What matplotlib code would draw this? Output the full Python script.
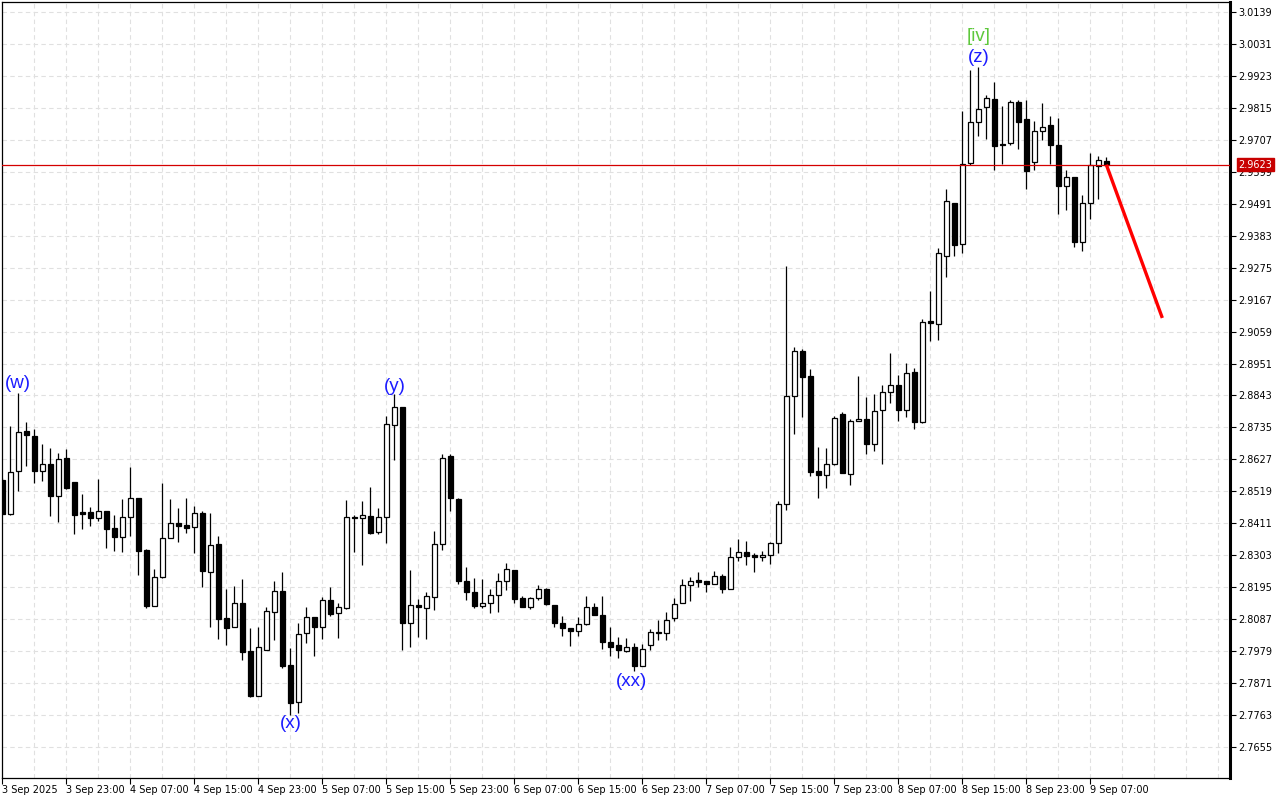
import matplotlib
matplotlib.use("Agg")
import matplotlib.pyplot as plt
import numpy as np

# hourly candles, 3 Sep 2025 15:00 .. 9 Sep 2025 09:00
opens = [
    2.8558, 2.8443, 2.8588, 2.8723, 2.8706, 2.8588, 2.8612, 2.8504, 2.8632, 2.8551,
    2.8449, 2.8449, 2.8429, 2.8453, 2.8395, 2.8365, 2.8433, 2.8497, 2.8321, 2.8132,
    2.8230, 2.8362, 2.8412, 2.8406, 2.8399, 2.8446, 2.8247, 2.8341, 2.8091, 2.8061,
    2.8142, 2.7980, 2.7828, 2.7983, 2.8111, 2.8182, 2.7932, 2.7807, 2.8040, 2.8094,
    2.8061, 2.8152, 2.8108, 2.8125, 2.8433, 2.8429, 2.8436, 2.8382, 2.8433, 2.8743,
    2.8804, 2.8074, 2.8135, 2.8125, 2.8162, 2.8341, 2.8639, 2.8493, 2.8216, 2.8179,
    2.8132, 2.8142, 2.8169, 2.8216, 2.8253, 2.8159, 2.8128, 2.8159, 2.8189, 2.8135,
    2.8074, 2.8057, 2.8047, 2.8071, 2.8128, 2.8101, 2.8010, 2.8000, 2.7980, 2.7993,
    2.7929, 2.8000, 2.8044, 2.8040, 2.8091, 2.8142, 2.8203, 2.8220, 2.8216, 2.8206,
    2.8233, 2.8189, 2.8297, 2.8314, 2.8304, 2.8297, 2.8304, 2.8345, 2.8476, 2.8842,
    2.8994, 2.8909, 2.8588, 2.8574, 2.8612, 2.8781, 2.8578, 2.8757, 2.8764, 2.8679,
    2.8794, 2.8855, 2.8879, 2.8794, 2.8923, 2.8754, 2.9095, 2.9085, 2.9315, 2.9494,
    2.9355, 2.9629, 2.9768, 2.9818, 2.9845, 2.9693, 2.9696, 2.9835, 2.9778, 2.9632,
    2.9737, 2.9757, 2.9690, 2.9551, 2.9581, 2.9362, 2.9494, 2.9619, 2.9636,
]
highs = [
    2.8565, 2.8740, 2.8852, 2.8754, 2.8730, 2.8679, 2.8666, 2.8649, 2.8662, 2.8551,
    2.8510, 2.8466, 2.8561, 2.8453, 2.8439, 2.8493, 2.8602, 2.8497, 2.8324, 2.8257,
    2.8547, 2.8493, 2.8463, 2.8497, 2.8470, 2.8453, 2.8446, 2.8368, 2.8189, 2.8199,
    2.8223, 2.8057, 2.8061, 2.8128, 2.8216, 2.8247, 2.7990, 2.8074, 2.8128, 2.8094,
    2.8162, 2.8196, 2.8142, 2.8490, 2.8439, 2.8487, 2.8534, 2.8463, 2.8774, 2.8848,
    2.8804, 2.8253, 2.8155, 2.8179, 2.8385, 2.8645, 2.8645, 2.8497, 2.8264, 2.8226,
    2.8223, 2.8189, 2.8243, 2.8277, 2.8253, 2.8165, 2.8162, 2.8203, 2.8193, 2.8135,
    2.8098, 2.8057, 2.8094, 2.8165, 2.8142, 2.8165, 2.8061, 2.8027, 2.8024, 2.8007,
    2.8003, 2.8054, 2.8084, 2.8111, 2.8159, 2.8223, 2.8230, 2.8247, 2.8216, 2.8250,
    2.8240, 2.8331, 2.8358, 2.8351, 2.8311, 2.8318, 2.8348, 2.8487, 2.9281, 2.9007,
    2.9000, 2.8933, 2.8669, 2.8666, 2.8774, 2.8787, 2.8764, 2.8909, 2.8838, 2.8848,
    2.8879, 2.8987, 2.8913, 2.8953, 2.8936, 2.9102, 2.9196, 2.9342, 2.9541, 2.9494,
    2.9805, 2.9943, 2.9953, 2.9859, 2.9903, 2.9822, 2.9842, 2.9842, 2.9842, 2.9771,
    2.9832, 2.9788, 2.9781, 2.9605, 2.9581, 2.9521, 2.9663, 2.9653, 2.9649,
]
lows = [
    2.8443, 2.8440, 2.8520, 2.8605, 2.8547, 2.8554, 2.8436, 2.8416, 2.8527, 2.8375,
    2.8392, 2.8402, 2.8419, 2.8328, 2.8318, 2.8314, 2.8368, 2.8237, 2.8125, 2.8132,
    2.8227, 2.8362, 2.8348, 2.8378, 2.8311, 2.8196, 2.8061, 2.8020, 2.8000, 2.8061,
    2.7949, 2.7824, 2.7828, 2.7983, 2.8017, 2.7922, 2.7763, 2.7770, 2.8007, 2.7963,
    2.8020, 2.8098, 2.8024, 2.8122, 2.8314, 2.8270, 2.8375, 2.8375, 2.8345, 2.8625,
    2.7983, 2.7993, 2.8027, 2.8020, 2.8118, 2.8321, 2.8453, 2.8206, 2.8152, 2.8125,
    2.8125, 2.8108, 2.8111, 2.8186, 2.8142, 2.8128, 2.8122, 2.8152, 2.8135, 2.8061,
    2.8030, 2.7997, 2.8030, 2.8067, 2.8101, 2.7986, 2.7963, 2.7956, 2.7976, 2.7912,
    2.7929, 2.7983, 2.8017, 2.8017, 2.8081, 2.8142, 2.8149, 2.8196, 2.8179, 2.8206,
    2.8176, 2.8189, 2.8284, 2.8270, 2.8247, 2.8284, 2.8274, 2.8311, 2.8456, 2.8713,
    2.8770, 2.8571, 2.8497, 2.8531, 2.8608, 2.8581, 2.8541, 2.8757, 2.8645, 2.8656,
    2.8612, 2.8818, 2.8757, 2.8770, 2.8730, 2.8750, 2.9027, 2.9031, 2.9244, 2.9315,
    2.9325, 2.9622, 2.9720, 2.9710, 2.9605, 2.9626, 2.9690, 2.9676, 2.9541, 2.9605,
    2.9707, 2.9626, 2.9457, 2.9470, 2.9345, 2.9332, 2.9440, 2.9507, 2.9621,
]
closes = [
    2.8443, 2.8585, 2.8720, 2.8710, 2.8588, 2.8612, 2.8504, 2.8629, 2.8531, 2.8439,
    2.8443, 2.8429, 2.8453, 2.8392, 2.8365, 2.8433, 2.8497, 2.8318, 2.8132, 2.8230,
    2.8362, 2.8412, 2.8402, 2.8395, 2.8446, 2.8250, 2.8338, 2.8088, 2.8057, 2.8142,
    2.7976, 2.7828, 2.7993, 2.8115, 2.8182, 2.7929, 2.7804, 2.8037, 2.8094, 2.8061,
    2.8152, 2.8105, 2.8128, 2.8433, 2.8429, 2.8439, 2.8378, 2.8433, 2.8747, 2.8804,
    2.8074, 2.8135, 2.8128, 2.8165, 2.8341, 2.8632, 2.8497, 2.8216, 2.8179, 2.8132,
    2.8142, 2.8169, 2.8216, 2.8257, 2.8155, 2.8128, 2.8159, 2.8189, 2.8138, 2.8074,
    2.8057, 2.8047, 2.8071, 2.8128, 2.8101, 2.8010, 2.7993, 2.7983, 2.7993, 2.7929,
    2.7986, 2.8044, 2.8040, 2.8084, 2.8138, 2.8203, 2.8216, 2.8213, 2.8206, 2.8233,
    2.8189, 2.8297, 2.8314, 2.8301, 2.8297, 2.8304, 2.8345, 2.8476, 2.8842, 2.8994,
    2.8906, 2.8585, 2.8574, 2.8612, 2.8767, 2.8581, 2.8757, 2.8764, 2.8679, 2.8791,
    2.8855, 2.8879, 2.8794, 2.8919, 2.8754, 2.9092, 2.9088, 2.9325, 2.9501, 2.9352,
    2.9626, 2.9768, 2.9812, 2.9849, 2.9686, 2.9690, 2.9835, 2.9768, 2.9602, 2.9737,
    2.9751, 2.9690, 2.9551, 2.9581, 2.9362, 2.9494, 2.9622, 2.9639, 2.9623,
]

time_labels = [
    "3 Sep 2025", "3 Sep 23:00", "4 Sep 07:00", "4 Sep 15:00", "4 Sep 23:00",
    "5 Sep 07:00", "5 Sep 15:00", "5 Sep 23:00", "6 Sep 07:00", "6 Sep 15:00",
    "6 Sep 23:00", "7 Sep 07:00", "7 Sep 15:00", "7 Sep 23:00", "8 Sep 07:00",
    "8 Sep 15:00", "8 Sep 23:00", "9 Sep 07:00",
]
price_ticks = [
    3.0139, 3.0031, 2.9923, 2.9815, 2.9707, 2.9599, 2.9491, 2.9383, 2.9275, 2.9167,
    2.9059, 2.8951, 2.8843, 2.8735, 2.8627, 2.8519, 2.8411, 2.8303, 2.8195, 2.8087,
    2.7979, 2.7871, 2.7763, 2.7655,
]
current_price = 2.9623

# wave labels: text, bar index, price, colour
wave_labels = [
    ("(w)", 2.0, 2.8885, "#1c1cff"),
    ("(x)", 36.0, 2.7736, "#1c1cff"),
    ("(y)", 49.1, 2.8875, "#1c1cff"),
    ("(xx)", 78.7, 2.7878, "#1c1cff"),
    ("(z)", 122.0, 2.9984, "#1c1cff"),
    ("[iv]", 122.0, 3.0055, "#5ec83c"),
]
forecast_bars = [138, 145]
forecast_prices = [2.9623, 2.9105]

fig = plt.figure(figsize=(12.8, 8.0), dpi=100)
ax = fig.add_axes([2 / 1280, 22 / 800, 1228 / 1280, 776 / 800])

x = np.arange(len(opens))
o = np.array(opens); h = np.array(highs); l = np.array(lows); c = np.array(closes)
bull = c >= o

grid_kw = dict(color="#e0e0e0", linestyle=(0, (4, 3)), linewidth=0.8, zorder=0)
for p in price_ticks:
    ax.axhline(p, **grid_kw)
for gx in range(4, 160, 4):
    ax.axvline(gx, **grid_kw)

ax.vlines(x, l, h, color="black", linewidth=0.9, zorder=2)
body_bottom = np.minimum(o, c)
body_height = np.maximum(np.abs(c - o), 0.00005)
ax.bar(x, body_height, bottom=body_bottom, width=0.6,
       color=np.where(bull, "white", "black"), edgecolor="black", linewidth=0.9, zorder=3)

ax.axhline(current_price, color="#d40000", linewidth=0.9, zorder=4)
ax.plot(forecast_bars, forecast_prices, color="#ff0000", linewidth=2.4, zorder=5,
        solid_capstyle="butt")

for text, bx, py, col in wave_labels:
    ax.text(bx, py, text, color=col, fontsize=13.5, ha="center", va="center",
            family="Liberation Sans", zorder=6)

ax.set_xlim(-0.04, 153.46)
ax.set_ylim(3.0139 - 766 / 2959, 3.0139 + 10 / 2959)

ax.yaxis.tick_right()
ax.set_yticks(price_ticks)
ax.set_yticklabels([f"{p:.4f}" for p in price_ticks])
ax.set_xticks(np.arange(0, len(opens), 8))
ax.set_xticklabels(time_labels, ha="left")
ax.tick_params(axis="both", labelsize=7, length=4, width=0.8, color="black", direction="out")
ax.tick_params(axis="x", pad=1)
ax.tick_params(axis="y", pad=2)

for side in ("left", "top", "bottom"):
    ax.spines[side].set_linewidth(0.9)
ax.spines["right"].set_linewidth(2.2)

ax.annotate(f"{current_price:.4f}", xy=(1.0, current_price), xycoords=("axes fraction", "data"),
            xytext=(6, 0), textcoords="offset points", ha="left", va="center",
            fontsize=7, color="white", zorder=10, annotation_clip=False,
            bbox=dict(boxstyle="square,pad=0.15", facecolor="#c80000", edgecolor="#c80000"))

fig.savefig("out.png", dpi=100, facecolor="white")
